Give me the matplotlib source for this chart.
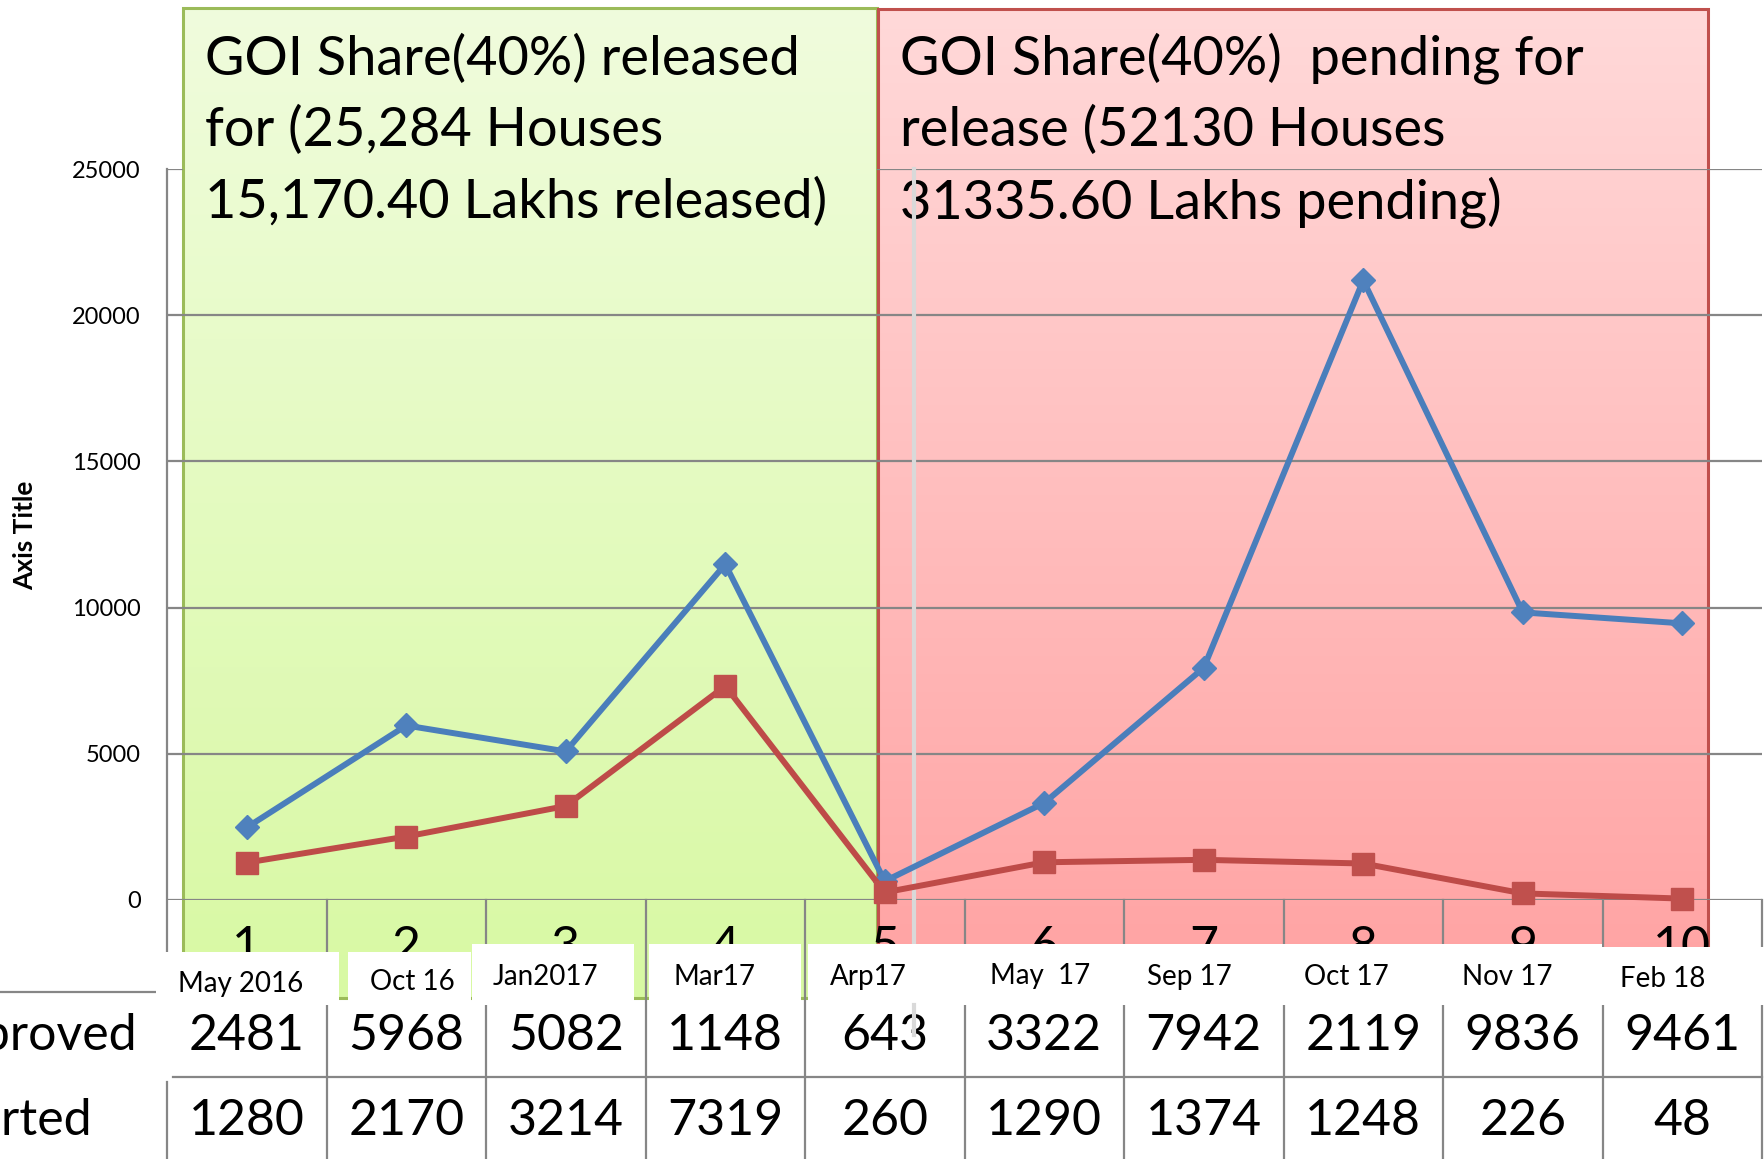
import numpy as np
import matplotlib
matplotlib.use("Agg")
import matplotlib.pyplot as plt
import matplotlib.transforms as mtransforms
from matplotlib.patches import Rectangle
from matplotlib.colors import to_rgb

plt.rcParams['font.family'] = ['Lato', 'DejaVu Sans']

# data
categories = list(range(1, 11))
months = ['May 2016', 'Oct 16', 'Jan2017', 'Mar17', 'Arp17',
          'May  17', 'Sep 17', 'Oct 17', 'Nov 17', 'Feb 18']
approved = [2481, 5968, 5082, 11482, 643, 3322, 7942, 21193, 9836, 9461]
started = [1280, 2170, 3214, 7319, 260, 1290, 1374, 1248, 226, 48]
row_names = ['Approved', 'Started']
y_ticks = [0, 5000, 10000, 15000, 20000, 25000]
green_text = ['GOI Share(40%) released',
              'for (25,284 Houses',
              '15,170.40 Lakhs released)']
red_text = ['GOI Share(40%)  pending for',
            'release (52130 Houses',
            '31335.60 Lakhs pending)']

# layout (pixels)
W, H = 1765, 1159
AX_L, AX_R, AX_T, AX_B = 167, 1762, 169, 900
GREEN = (183, 877, 8, 998)
RED = (878, 1708, 9, 998)
month_dx = [-6, 6, -20, -11, -16, -4, -14, -17, -16, -20]
month_base = [992, 990, 985, 985, 985, 984, 985, 985, 985, 987]
white_boxes = [(156, 339, 952), (348, 471, 952), (472, 634, 944),
               (649, 801, 944), (808, 1602, 944), (1602, 1765, 947)]
GRID = '#868686'


def vgrad(c_top, c_bot, n=256):
    t = np.linspace(0, 1, n)[:, None]
    a, b = np.array(to_rgb(c_top)), np.array(to_rgb(c_bot))
    return (a + (b - a) * t)[:, None, :]


fig = plt.figure(figsize=(W / 100, H / 100), dpi=100)

# background: the two coloured boxes with their text
bg = fig.add_axes([0, 0, 1, 1], zorder=0)
for (x0, x1, y0, y1), ctop, cbot, ec in [(GREEN, '#F0FCDD', '#D8F9A3', '#9BBB59'),
                                         (RED, '#FFD9D9', '#FFA2A2', '#C0504D')]:
    bg.imshow(vgrad(ctop, cbot), extent=(x0, x1, y1, y0), aspect='auto',
              interpolation='bilinear', zorder=0)
    bg.add_patch(Rectangle((x0, y0), x1 - x0, y1 - y0, fill=False, ec=ec, lw=2.2, zorder=1))
for i, (gt, rt) in enumerate(zip(green_text, red_text)):
    yb = 75 + i * 71.5
    bg.text(205, yb, gt, fontsize=39, ha='left', va='baseline', zorder=2)
    bg.text(900, yb, rt, fontsize=39, ha='left', va='baseline', zorder=2)
bg.set_xlim(0, W)
bg.set_ylim(H, 0)
bg.axis('off')

# main chart
ax = fig.add_axes([AX_L / W, (H - AX_B) / H, (AX_R - AX_L) / W, (AX_B - AX_T) / H], zorder=1)
ax.patch.set_alpha(0)
ax.set_xlim(0.5, 10.5)
ax.set_ylim(0, 25000)
for v in y_ticks[:-1]:
    ax.axhline(v, color=GRID, lw=1.6, zorder=1)
gx0 = 0.5 + (GREEN[0] - AX_L) / ((AX_R - AX_L) / 10)
gx1 = 0.5 + (GREEN[1] - AX_L) / ((AX_R - AX_L) / 10)
ax.hlines(y_ticks[-1], 0.5, gx0, color=GRID, lw=1.6, zorder=1)
ax.hlines(y_ticks[-1], gx1, 10.5, color=GRID, lw=1.6, zorder=1)

ax.plot(categories, approved, color='#4A7EBB', lw=4.3, marker='D', ms=12.5,
        mfc='#4F81BD', mec='#4F81BD', zorder=4, clip_on=False)
ax.plot(categories, started, color='#BE4B48', lw=4.3, marker='s', ms=16,
        mfc='#C0504D', mec='#C0504D', zorder=5, clip_on=False)

ax.set_xticks([])
ax.set_yticks(y_ticks)
ax.set_yticklabels([str(v) for v in y_ticks])
ax.tick_params(axis='y', labelsize=17, length=0, pad=19)
for s in ax.spines.values():
    s.set_visible(False)

# foreground: axis title, data table, month boxes
fg = fig.add_axes([0, 0, 1, 1], zorder=2)
fg.set_xlim(0, W)
fg.set_ylim(H, 0)
fg.axis('off')
trans = mtransforms.blended_transform_factory(ax.transData, fg.transData)

# light grey vertical line drawn across the chart
ax.plot([914, 914], [AX_T, 944], transform=fg.transData, color='#D9D9D9',
        lw=3, zorder=3, clip_on=False)

fg.text(25, 535, 'Axis Title', rotation=90, fontsize=19, fontweight='bold',
        ha='center', va='center')

fg.plot([AX_L, AX_L], [AX_T, 952], color=GRID, lw=1.6, zorder=1)
for k in range(1, 11):
    fg.plot([k + 0.5, k + 0.5], [AX_B, H], transform=trans, color=GRID, lw=1.6, zorder=1)
fg.plot([0.5, 0.5], [1082, H], transform=trans, color=GRID, lw=1.6, zorder=1)
fg.plot([0, 155], [992, 992], color=GRID, lw=1.6, zorder=1)
fg.plot([173, AX_R], [1077, 1077], color=GRID, lw=1.6, zorder=3)

for c in categories:
    fg.text(c, 962, str(c), transform=trans, fontsize=36, ha='center',
            va='baseline', zorder=1)

for x0, x1, top in white_boxes:
    fg.add_patch(Rectangle((x0, top), x1 - x0, 1005 - top, fc='white', ec='none', zorder=2))

for c, m, dx, yb in zip(categories, months, month_dx, month_base):
    tr = mtransforms.offset_copy(trans, fig=fig, x=dx, y=0, units='dots')
    fg.text(c, yb, m, transform=tr, fontsize=20, ha='center', va='baseline', zorder=3)

# table values (cells are too narrow, 5-digit values show only 4 digits)
for c, a, s in zip(categories, approved, started):
    fg.text(c, 1050, str(a)[:4], transform=trans, fontsize=36, ha='center',
            va='baseline', zorder=3)
    fg.text(c, 1135, str(s)[:4], transform=trans, fontsize=36, ha='center',
            va='baseline', zorder=3)
fg.text(137, 1050, row_names[0], fontsize=36, ha='right', va='baseline', zorder=3)
fg.text(92, 1135, row_names[1], fontsize=36, ha='right', va='baseline', zorder=3)

fg.plot([914, 914], [1005, 1035], color='#D9D9D9', lw=3, zorder=4)

fig.savefig('out.png', dpi=100)
